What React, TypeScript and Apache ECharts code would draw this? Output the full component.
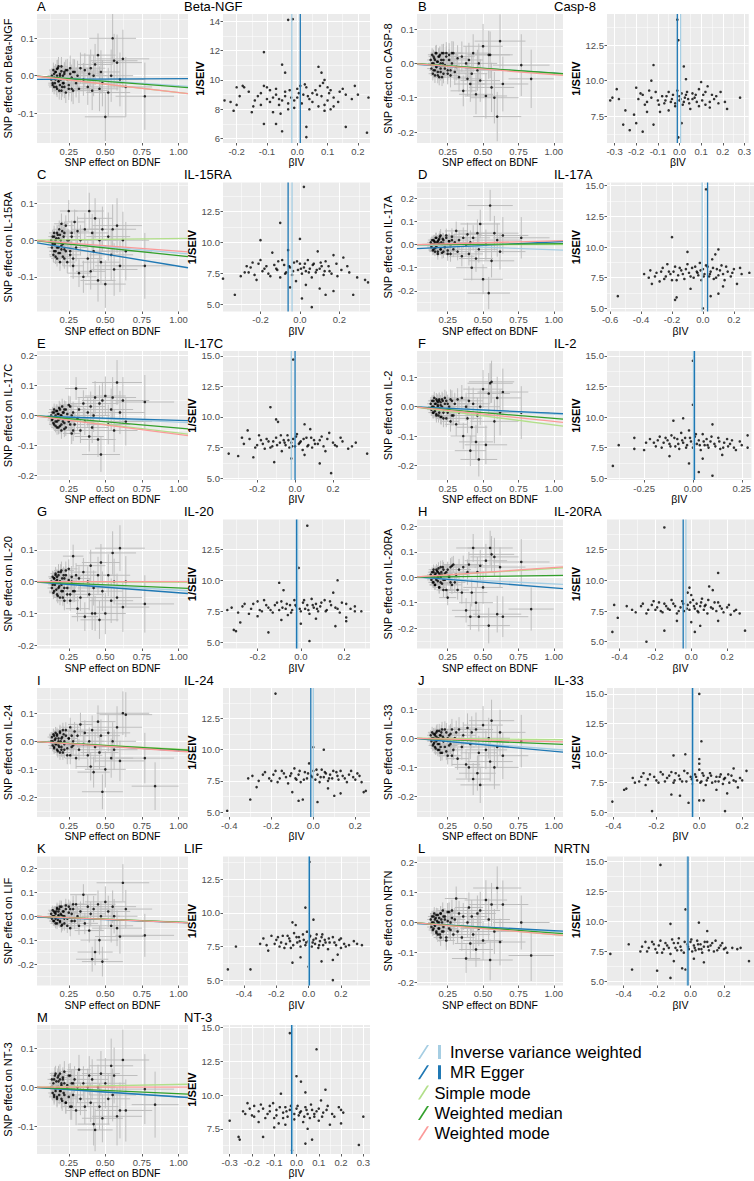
import React, { useEffect, useRef } from 'react';
import * as echarts from 'echarts';

const FONT = "'Liberation Sans', Arial, Helvetica, sans-serif";

// ---------- shared SNP data (exposure BDNF): 50 spread SNPs + 25 clustered SNPs ----------
const bdnfBeta = [0.14,0.15,0.15,0.16,0.16,0.17,0.17,0.18,0.18,0.19,0.19,0.20,0.20,0.21,0.22,0.22,0.23,0.24,0.25,0.26,0.27,0.28,0.29,0.30,0.31,0.32,0.33,0.35,0.36,0.38,0.39,0.40,0.41,0.42,0.43,0.45,0.46,0.47,0.48,0.50,0.52,0.54,0.55,0.56,0.58,0.60,0.62,0.64,0.77,0.84,
  0.13,0.135,0.14,0.145,0.15,0.155,0.16,0.165,0.17,0.175,0.18,0.185,0.19,0.195,0.2,0.205,0.21,0.215,0.22,0.23,0.24,0.25,0.26,0.27,0.28];
const bdnfSe = [0.03,0.03,0.035,0.03,0.04,0.035,0.04,0.04,0.035,0.045,0.04,0.045,0.05,0.05,0.05,0.055,0.05,0.06,0.06,0.065,0.06,0.07,0.07,0.075,0.08,0.08,0.085,0.09,0.09,0.1,0.1,0.1,0.11,0.11,0.12,0.12,0.13,0.13,0.14,0.14,0.15,0.15,0.16,0.16,0.17,0.17,0.18,0.18,0.2,0.16,
  0.025,0.03,0.03,0.03,0.035,0.03,0.035,0.035,0.04,0.035,0.04,0.04,0.045,0.04,0.045,0.045,0.05,0.05,0.05,0.055,0.055,0.06,0.06,0.065,0.065];
const outcomeSe = [0.018,0.02,0.02,0.022,0.02,0.022,0.024,0.022,0.025,0.024,0.026,0.025,0.028,0.026,0.028,0.03,0.028,0.032,0.03,0.034,0.035,0.036,0.034,0.038,0.04,0.038,0.042,0.044,0.045,0.048,0.05,0.05,0.052,0.055,0.055,0.058,0.06,0.058,0.062,0.065,0.066,0.07,0.068,0.072,0.075,0.072,0.078,0.08,0.09,0.085,
  0.017,0.018,0.019,0.02,0.02,0.021,0.021,0.022,0.022,0.023,0.023,0.024,0.024,0.025,0.025,0.026,0.026,0.027,0.027,0.028,0.03,0.031,0.032,0.034,0.035];

// ---------- SNP effect on each outcome ----------
const yBetaNGF = [-0.02,0.005,-0.03,-0.01,0.01,-0.035,0.018,-0.015,0.025,-0.025, 0.0,-0.04,0.012,-0.02,0.005,-0.03,0.015,-0.01,-0.035,0.02, -0.005,-0.04,0.01,-0.02,0.0,-0.035,0.02,-0.01,0.015,-0.03, 0.005,0.02,-0.04,0.0,0.03,0.055,-0.035,0.01,-0.02,-0.11, -0.045,0.0,0.1,0.04,0.035,-0.01,0.045,-0.03,-0.055,null,
  -0.01,0.0,-0.025,0.015,-0.005,-0.02,0.01,-0.03,0.0,0.02,-0.015,-0.04,0.005,-0.01,0.025,-0.03,0.0,-0.02,0.01,-0.045,0.015,-0.025,0.005,-0.035,0.01];
const yCasp8 = [0.0,-0.02,0.02,-0.035,0.01,-0.01,0.03,-0.025,0.005,-0.04, 0.02,-0.015,0.0,0.03,-0.03,0.01,-0.005,0.03,-0.02,0.025, -0.035,0.0,0.03,-0.025,-0.01,0.015,-0.04,0.02,-0.08,0.0, -0.045,0.01,-0.06,-0.03,0.03,-0.09,-0.02,0.0,-0.05,0.05, -0.095,0.025,0.025,-0.07,-0.1,-0.155,0.065,-0.06,-0.005,-0.045,
  0.01,-0.015,0.025,-0.03,0.0,0.015,-0.02,0.03,-0.01,0.005,-0.035,0.02,-0.005,0.025,-0.025,0.01,-0.04,0.0,0.03,-0.015,0.02,-0.03,0.01,-0.02,0.03];
const yIL15RA = [-0.01,0.01,-0.03,0.0,-0.045,0.02,-0.02,-0.035,0.005,-0.06, 0.015,-0.025,0.045,-0.01,-0.05,0.02,-0.03,0.0,0.08,-0.04, 0.01,-0.07,0.05,-0.02,0.025,-0.09,0.0,-0.1,0.03,-0.05, 0.08,-0.085,0.02,-0.03,0.06,-0.11,0.0,-0.06,0.03,-0.12, 0.01,-0.04,0.03,-0.08,0.04,-0.07,0.0,-0.03,-0.07,null,
  0.0,-0.02,0.01,-0.04,0.02,-0.01,-0.03,0.005,-0.05,0.015,-0.02,0.03,-0.035,0.0,-0.015,0.025,-0.045,0.01,-0.025,0.04,-0.06,0.0,-0.03,0.02,-0.05];
const yIL17A = [0.0,0.02,-0.02,0.01,-0.03,0.03,-0.01,0.015,-0.04,0.005, 0.025,-0.02,0.04,0.0,-0.03,0.02,-0.01,0.03,-0.04,0.015, -0.005,0.035,-0.02,0.01,0.06,-0.03,0.02,-0.05,0.03,0.0, 0.045,-0.04,0.01,-0.1,0.03,-0.06,0.05,-0.02,0.09,-0.15, 0.0,-0.21,0.17,-0.07,0.05,0.02,-0.03,0.04,0.03,null,
  0.01,-0.01,0.02,-0.025,0.0,0.015,-0.015,0.03,-0.005,0.01,-0.03,0.02,0.0,0.035,-0.02,0.01,-0.035,0.025,0.005,-0.01,0.04,-0.025,0.015,-0.04,0.02];
const yIL17C = [-0.01,0.01,-0.03,0.0,-0.02,0.015,-0.04,0.005,-0.015,0.02, -0.035,0.0,-0.05,0.01,-0.025,0.02,-0.04,0.005,-0.02,0.03, -0.06,0.01,-0.03,0.09,-0.01,0.02,-0.05,0.04,-0.02,0.01, -0.07,0.03,-0.04,0.0,0.06,-0.08,0.04,-0.13,0.05,0.065, -0.03,0.02,0.06,-0.05,0.11,0.01,0.05,-0.02,0.045,null,
  0.0,-0.015,0.01,-0.025,0.02,-0.005,-0.035,0.015,-0.02,0.005,-0.04,0.025,-0.01,0.0,-0.03,0.03,-0.02,0.01,-0.045,0.02,-0.01,0.035,-0.03,0.0,-0.05];
const yIL2 = [0.0,0.02,-0.02,0.01,-0.01,0.025,-0.03,0.0,0.015,-0.02, 0.02,-0.035,0.005,0.025,-0.01,-0.04,0.01,0.02,-0.02,0.0, -0.05,0.02,-0.03,0.01,-0.06,0.025,-0.02,0.03,-0.1,0.0, -0.04,0.02,-0.15,-0.07,0.01,-0.12,-0.03,-0.18,0.0,0.06, -0.13,0.045,0.08,0.085,-0.05,0.03,-0.02,0.05,-0.02,null,
  0.01,-0.01,0.02,-0.02,0.0,0.03,-0.015,0.01,-0.025,0.02,0.005,-0.03,0.025,-0.005,0.015,-0.035,0.0,0.02,-0.02,0.03,-0.04,0.01,-0.01,0.025,-0.03];
const yIL20 = [-0.01,0.01,-0.03,0.02,0.0,-0.04,0.015,-0.02,0.03,-0.05, 0.0,-0.01,0.035,-0.03,0.01,-0.06,0.02,-0.02,0.04,-0.04, 0.0,0.08,-0.03,0.02,-0.085,0.01,-0.05,0.03,-0.11,0.0, -0.04,0.05,-0.1,-0.02,-0.1,0.02,-0.12,0.06,-0.03,-0.1, 0.02,-0.06,0.09,0.0,-0.05,0.105,-0.08,0.0,-0.07,null,
  0.0,-0.02,0.015,-0.035,0.01,-0.01,0.025,-0.025,0.005,-0.045,0.02,-0.015,0.0,0.03,-0.03,0.01,-0.05,0.02,-0.02,0.035,-0.04,0.005,-0.06,0.015,-0.03];
const yIL20RA = [0.0,0.02,-0.02,0.01,-0.03,0.03,-0.01,0.02,0.0,-0.04, 0.015,0.04,-0.02,0.01,-0.05,0.03,-0.01,0.02,-0.08,0.0, 0.04,-0.03,0.05,-0.02,0.01,-0.05,0.03,-0.06,0.04,-0.13, 0.02,0.05,-0.155,-0.06,0.115,-0.1,0.02,-0.155,0.045,-0.04, 0.065,-0.19,0.115,0.09,0.08,-0.145,0.04,-0.155,0.06,-0.125,
  0.01,-0.01,0.02,-0.02,0.03,0.0,-0.03,0.015,-0.005,0.025,-0.015,0.035,-0.04,0.01,0.0,0.02,-0.025,0.04,-0.01,0.015,-0.05,0.03,0.005,-0.02,0.045];
const yIL24 = [0.0,-0.02,0.02,-0.01,0.01,-0.03,0.025,0.0,-0.015,0.03, -0.04,0.01,-0.02,0.04,0.0,-0.03,0.02,-0.05,0.01,0.05, -0.02,0.0,0.035,-0.06,0.02,-0.03,0.06,-0.01,0.03,-0.05, 0.0,-0.09,0.04,-0.11,-0.02,0.07,-0.04,0.02,-0.18,-0.1, 0.03,-0.06,0.0,-0.03,0.05,-0.07,0.1,0.095,-0.06,-0.16,
  0.0,0.015,-0.015,0.025,-0.025,0.005,0.03,-0.01,0.02,-0.035,0.01,-0.02,0.035,0.0,-0.03,0.015,-0.04,0.025,-0.01,0.04,-0.025,0.01,-0.05,0.02,-0.015];
const yIL33 = [0.0,-0.02,0.015,-0.03,0.01,-0.01,0.02,-0.04,0.0,0.025, -0.02,0.01,-0.05,0.03,-0.01,0.0,-0.03,0.02,-0.06,0.01, -0.02,0.03,-0.04,0.0,0.02,-0.07,0.03,-0.03,0.01,-0.09, 0.035,-0.1,-0.02,0.02,-0.14,0.03,-0.12,-0.05,-0.16,0.045, -0.04,0.0,-0.08,0.06,-0.1,-0.03,0.02,-0.06,-0.01,null,
  0.01,-0.01,0.02,-0.025,0.0,-0.015,0.015,-0.035,0.005,0.025,-0.02,0.0,-0.04,0.01,-0.03,0.02,-0.05,0.005,-0.01,0.03,-0.045,0.0,-0.025,0.015,-0.06];
const yLIF = [0.0,-0.02,0.02,-0.01,0.01,0.03,-0.03,0.0,0.02,-0.02, 0.04,0.005,-0.04,0.02,0.0,-0.03,0.03,-0.01,0.04,-0.05, 0.01,0.03,-0.02,0.05,0.0,-0.04,0.02,0.09,-0.03,0.04, -0.06,0.01,-0.18,0.03,-0.15,0.05,-0.1,0.0,-0.19,0.06, 0.02,-0.04,0.04,0.0,-0.05,-0.085,0.14,0.03,-0.08,null,
  0.01,-0.01,0.025,-0.02,0.0,0.015,-0.03,0.02,0.035,-0.015,0.005,0.03,-0.025,0.01,0.04,-0.035,0.0,0.02,-0.01,0.045,-0.04,0.015,0.03,-0.02,0.05];
const yNRTN = [0.0,-0.02,0.02,-0.01,0.01,-0.03,0.025,0.0,-0.04,0.015, -0.02,0.03,-0.05,0.0,0.02,-0.03,0.01,-0.06,0.035,-0.02, 0.0,0.04,-0.04,0.01,0.08,-0.03,0.03,-0.05,0.02,-0.12, 0.0,0.05,-0.07,0.02,-0.04,-0.09,0.03,-0.02,0.04,-0.06, 0.075,0.01,-0.125,0.06,-0.03,0.115,-0.065,0.06,0.0,-0.11,
  0.01,-0.015,0.02,-0.025,0.0,0.03,-0.01,0.015,-0.035,0.005,0.025,-0.02,0.0,-0.04,0.03,0.01,-0.03,0.04,-0.015,0.02,-0.05,0.005,0.035,-0.025,0.015];
const yNT3 = [0.0,-0.02,0.02,-0.01,0.035,0.0,-0.025,0.015,0.03,-0.01, 0.02,-0.03,0.005,0.025,-0.02,0.01,-0.04,0.0,0.03,-0.05, 0.01,-0.02,0.02,-0.06,0.0,0.045,-0.03,0.01,-0.05,0.0, 0.03,-0.04,0.02,-0.095,-0.11,0.0,-0.05,0.035,-0.08,0.01, -0.03,0.055,-0.02,0.03,-0.075,-0.06,0.07,-0.06,-0.005,-0.045,
  0.0,0.02,-0.015,0.01,-0.025,0.03,-0.005,0.015,-0.03,0.025,0.0,-0.02,0.035,-0.01,0.01,-0.035,0.02,-0.015,0.04,-0.04,0.005,-0.025,0.03,-0.05,0.01];

// ---------- funnel plots: [betaIV, 1/SEIV] ----------
const fBetaNGF = [[-0.03,14.1],[-0.015,14.15],[-0.11,11.9],[-0.05,11.05],[-0.04,10.5],[0.07,10.9],[0.08,10.5],[0.09,10.0],[0.085,9.8],[0.1,9.5],[0.11,9.3],[-0.24,8.6],[-0.22,8.5],[-0.2,9.5],[-0.21,7.9],[-0.18,9.6],[-0.175,9.5],[-0.19,8.9],[-0.15,7.8],[-0.14,8.6],[-0.12,9.1],[-0.12,8.3],[-0.1,8.7],[-0.1,9.5],[-0.09,9.3],[-0.08,8.8],[-0.07,9.0],[-0.06,8.3],[-0.05,8.6],[-0.04,9.2],[-0.03,8.4],[-0.02,8.8],[-0.01,8.1],[0.0,8.8],[0.0,9.4],[0.01,9.6],[0.02,9.0],[0.03,9.5],[0.04,8.7],[0.05,9.1],[0.06,9.3],[0.07,8.2],[0.08,8.9],[0.1,8.6],[0.11,8.0],[0.12,8.2],[0.14,9.2],[0.16,9.0],[0.19,9.6],[0.2,9.0],[0.235,8.8],[-0.11,7.0],[-0.07,7.0],[-0.05,6.5],[0.03,6.1],[0.03,6.8],[0.16,6.8],[0.23,6.4],[-0.08,7.8],[-0.03,8.0],[0.04,8.0],[0.09,7.9],
  [-0.16,9.2],[-0.13,8.9],[-0.11,9.6],[-0.09,8.5],[-0.07,9.4],[-0.06,8.7],[-0.04,8.9],[-0.025,9.3],[-0.01,8.6],[0.005,9.1],[0.015,8.4],[0.025,9.7],[0.035,8.9],[0.05,8.5],[0.065,9.0],[0.075,9.6],[0.09,8.3],[0.105,9.1],[0.12,8.8],[0.135,8.5],[0.15,9.4],[0.18,8.7],[-0.2,8.3],[-0.145,8.2],[-0.055,7.7]];
const fCasp8 = [[-0.01,14.3],[-0.005,12.85],[0.02,11.0],[-0.12,11.1],[0.03,10.1],[-0.13,10.0],[-0.29,9.4],[-0.2,9.5],[-0.31,8.8],[-0.32,8.6],[-0.28,8.7],[-0.25,7.9],[-0.23,6.5],[-0.26,6.9],[-0.2,7.0],[-0.17,6.4],[-0.12,6.9],[0.01,7.0],[-0.005,6.0],[0.1,9.9],[0.13,9.6],[0.15,9.0],[0.22,8.0],[0.28,8.8],[0.18,8.4],[0.12,8.3],[0.07,8.8],[-0.18,9.1],[-0.16,8.3],[-0.14,9.3],[-0.1,8.6],[-0.09,7.8],[-0.07,8.4],[-0.06,8.9],[-0.05,7.9],[-0.04,8.5],[-0.03,9.0],[-0.02,8.2],[0.0,8.9],[0.0,8.6],[0.01,9.1],[0.02,8.5],[0.03,9.0],[0.04,8.7],[0.05,8.0],[0.06,9.1],[0.08,8.5],[0.09,9.4],[0.11,9.0],[0.14,8.1],[0.16,8.7],[0.19,9.2],[-0.21,7.6],[-0.15,7.8],
  [-0.19,8.7],[-0.17,9.0],[-0.15,8.5],[-0.13,8.8],[-0.11,9.2],[-0.095,8.3],[-0.08,8.9],[-0.065,8.6],[-0.05,9.2],[-0.035,8.7],[-0.02,8.4],[-0.01,9.3],[0.005,8.7],[0.015,8.3],[0.025,8.8],[0.035,9.2],[0.045,8.4],[0.06,8.7],[0.075,9.0],[0.09,8.2],[0.105,8.6],[0.12,9.2],[0.14,8.5],[0.17,8.9],[0.21,8.5]];
const fIL15RA = [[0.02,14.5],[-0.1,11.6],[0.0,10.3],[-0.2,10.2],[0.01,5.5],[0.06,4.8],[0.27,5.8],[0.17,6.1],[-0.39,7.1],[-0.33,5.8],[-0.3,7.3],[-0.27,8.1],[-0.26,7.6],[-0.24,8.4],[-0.22,7.0],[-0.2,8.6],[-0.19,7.7],[-0.17,8.1],[-0.15,7.3],[-0.14,9.2],[-0.12,7.9],[-0.11,8.5],[-0.1,7.2],[-0.08,8.2],[-0.07,7.6],[-0.06,9.4],[-0.05,8.0],[-0.04,7.4],[-0.03,8.4],[-0.02,6.9],[-0.01,7.8],[0.0,8.3],[0.01,7.5],[0.02,8.0],[0.03,7.7],[0.04,8.6],[0.05,7.9],[0.06,7.2],[0.07,8.3],[0.08,7.6],[0.09,9.3],[0.1,7.9],[0.11,8.1],[0.12,7.4],[0.13,8.5],[0.15,7.7],[0.17,9.0],[0.19,7.3],[0.22,8.8],[0.25,7.6],[0.29,7.2],[0.33,7.0],[0.345,6.8],[0.1,6.3],[0.13,5.8],[-0.05,6.4],[0.03,6.6],
  [-0.28,7.6],[-0.25,8.0],[-0.23,7.4],[-0.21,8.3],[-0.18,7.9],[-0.16,7.5],[-0.13,8.2],[-0.115,7.8],[-0.09,8.6],[-0.075,7.5],[-0.055,8.1],[-0.035,7.7],[-0.015,8.5],[0.005,7.9],[0.025,8.3],[0.045,7.6],[0.065,8.2],[0.085,7.8],[0.105,8.4],[0.125,7.7],[0.145,8.1],[0.16,7.5],[0.185,8.3],[0.21,7.8],[0.24,8.1]];
const fIL17A = [[0.02,14.7],[-0.2,10.8],[-0.1,9.6],[0.1,9.8],[0.08,9.4],[-0.55,6.0],[-0.18,5.7],[-0.17,5.9],[0.0,5.0],[0.05,6.0],[0.1,6.2],[-0.38,7.8],[-0.35,7.5],[-0.33,7.0],[-0.3,7.9],[-0.28,7.2],[-0.26,8.3],[-0.24,7.6],[-0.22,8.0],[-0.2,7.3],[-0.18,8.4],[-0.16,7.7],[-0.14,8.1],[-0.12,7.4],[-0.1,8.6],[-0.09,7.9],[-0.07,8.3],[-0.06,7.5],[-0.04,8.0],[-0.03,7.7],[-0.02,8.7],[-0.01,7.3],[0.0,8.2],[0.01,7.8],[0.03,8.4],[0.04,7.6],[0.05,8.0],[0.06,9.0],[0.07,7.4],[0.09,8.2],[0.1,7.7],[0.12,8.5],[0.14,7.3],[0.16,8.0],[0.18,7.6],[0.2,8.2],[0.22,7.0],[0.25,7.8],[0.3,7.9],[0.13,6.8],[-0.08,6.6],
  [-0.34,8.1],[-0.31,7.6],[-0.27,8.0],[-0.25,7.4],[-0.23,8.6],[-0.21,7.8],[-0.19,8.0],[-0.17,7.3],[-0.15,8.3],[-0.13,7.8],[-0.11,8.2],[-0.08,7.6],[-0.05,8.4],[-0.035,7.9],[-0.015,8.1],[0.005,7.6],[0.02,8.5],[0.045,7.8],[0.065,8.3],[0.085,7.5],[0.11,8.1],[0.13,7.8],[0.15,8.4],[0.19,7.9],[0.24,8.3]];
const fIL17C = [[-0.01,14.7],[-0.13,10.8],[-0.1,9.8],[-0.09,9.6],[0.05,9.4],[0.38,7.0],[-0.35,7.0],[0.19,5.4],[-0.22,6.7],[-0.3,6.8],[0.13,6.2],[-0.25,8.9],[-0.28,8.3],[-0.2,7.7],[-0.18,8.1],[-0.16,7.4],[-0.14,8.0],[-0.12,7.6],[-0.1,8.3],[-0.08,7.9],[-0.07,7.2],[-0.06,8.1],[-0.05,7.7],[-0.04,8.5],[-0.03,7.5],[-0.02,7.9],[-0.01,8.2],[0.0,7.6],[0.01,8.6],[0.02,7.8],[0.03,8.0],[0.04,7.3],[0.06,8.3],[0.07,7.7],[0.08,9.0],[0.09,7.5],[0.1,8.1],[0.12,7.8],[0.14,8.4],[0.16,7.2],[0.18,8.7],[0.2,7.9],[0.22,7.6],[0.25,8.0],[0.28,7.4],[0.32,7.9],[-0.02,6.6],[0.05,6.9],[-0.11,6.3],
  [-0.27,7.8],[-0.24,8.2],[-0.21,7.5],[-0.19,8.5],[-0.17,7.8],[-0.15,8.2],[-0.13,7.5],[-0.115,8.0],[-0.095,7.7],[-0.075,8.5],[-0.055,7.9],[-0.035,8.1],[-0.015,7.6],[0.005,8.4],[0.025,7.9],[0.045,8.2],[0.065,7.6],[0.085,8.3],[0.105,7.8],[0.13,8.1],[0.15,7.6],[0.17,8.2],[0.21,7.7],[0.24,8.3],[0.3,7.6]];
const fIL2 = [[0.0,14.6],[0.0,11.0],[-0.05,9.9],[-0.1,9.7],[0.1,9.4],[-0.38,7.7],[-0.25,7.3],[-0.3,8.3],[-0.41,6.0],[0.03,5.5],[0.1,5.2],[0.28,7.5],[0.28,8.5],[-0.2,7.9],[-0.18,8.1],[-0.16,7.5],[-0.14,8.3],[-0.12,7.8],[-0.11,8.5],[-0.09,7.6],[-0.08,8.2],[-0.07,7.4],[-0.06,8.7],[-0.05,7.9],[-0.04,8.3],[-0.03,7.7],[-0.02,8.9],[-0.01,8.0],[0.0,7.5],[0.01,8.4],[0.02,7.8],[0.03,8.1],[0.04,7.3],[0.05,8.6],[0.06,7.7],[0.07,8.2],[0.08,7.5],[0.09,8.0],[0.11,7.8],[0.13,8.3],[0.14,7.4],[0.16,7.9],[0.18,7.6],[0.2,8.1],[0.22,7.3],[0.25,7.7],[-0.12,6.8],[0.05,6.6],[0.15,6.9],[-0.02,6.2],[-0.3,7.4],
  [-0.24,7.9],[-0.22,8.2],[-0.19,7.6],[-0.17,8.4],[-0.15,7.9],[-0.13,8.1],[-0.115,7.6],[-0.095,8.3],[-0.075,7.8],[-0.055,8.1],[-0.035,7.5],[-0.015,8.3],[0.005,7.8],[0.015,8.6],[0.035,7.7],[0.055,8.0],[0.075,7.7],[0.095,8.4],[0.115,7.6],[0.135,8.0],[0.155,7.5],[0.175,8.2],[0.19,7.8],[0.21,7.5],[0.24,8.0]];
const fIL20 = [[0.03,14.4],[-0.01,11.0],[-0.1,9.8],[-0.08,9.2],[0.17,10.0],[-0.3,5.9],[-0.31,6.0],[-0.28,6.6],[-0.15,5.8],[0.04,5.1],[0.16,6.3],[0.21,6.7],[0.21,7.0],[-0.2,7.1],[0.25,7.5],[-0.34,7.6],[-0.27,7.9],[-0.24,7.3],[-0.22,8.1],[-0.19,7.6],[-0.17,8.4],[-0.15,7.8],[-0.13,7.4],[-0.12,8.0],[-0.1,7.6],[-0.09,8.3],[-0.07,7.7],[-0.06,7.2],[-0.05,8.0],[-0.04,7.6],[-0.03,8.4],[-0.02,7.9],[0.0,7.5],[0.01,8.2],[0.02,7.7],[0.03,8.0],[0.04,7.3],[0.05,8.5],[0.06,7.8],[0.07,8.1],[0.08,7.5],[0.09,7.9],[0.11,8.4],[0.12,7.6],[0.14,8.0],[0.15,9.0],[0.17,7.7],[0.19,8.2],[0.23,7.7],[0.28,7.5],[0.0,6.5],[0.07,6.9],[-0.09,6.8],
  [-0.32,7.8],[-0.29,7.4],[-0.26,8.1],[-0.23,7.7],[-0.2,8.3],[-0.18,7.5],[-0.16,8.0],[-0.14,7.6],[-0.11,8.2],[-0.085,7.8],[-0.065,8.1],[-0.045,7.4],[-0.025,8.0],[-0.005,7.7],[0.015,8.4],[0.035,7.6],[0.055,8.0],[0.075,7.7],[0.095,8.2],[0.115,7.5],[0.135,8.3],[0.16,7.8],[0.18,7.4],[0.21,8.1],[0.25,7.9]];
const fIL20RA = [[-0.15,14.3],[0.0,8.8],[-0.02,9.0],[-0.01,9.4],[0.15,10.6],[0.1,9.5],[0.12,9.2],[-0.43,8.0],[-0.41,6.95],[-0.44,5.8],[-0.25,5.0],[-0.15,5.9],[0.3,5.9],[0.15,6.7],[0.0,6.6],[0.02,5.8],[-0.33,7.6],[-0.28,7.9],[-0.25,7.3],[-0.22,8.0],[-0.2,7.6],[-0.18,8.2],[-0.16,7.4],[-0.14,7.9],[-0.12,7.6],[-0.1,8.1],[-0.08,7.3],[-0.06,7.8],[-0.05,8.3],[-0.04,7.5],[-0.02,8.0],[-0.01,7.6],[0.01,8.4],[0.02,7.7],[0.03,8.1],[0.04,7.4],[0.05,7.9],[0.06,8.5],[0.07,7.6],[0.08,8.0],[0.09,7.3],[0.11,7.8],[0.13,8.2],[0.14,7.5],[0.16,7.9],[0.18,7.4],[0.2,7.8],[0.22,7.2],[0.25,7.6],[0.27,7.3],[0.05,6.3],[-0.08,6.7],
  [-0.36,7.9],[-0.31,7.4],[-0.27,8.1],[-0.24,7.6],[-0.21,8.3],[-0.19,7.8],[-0.17,7.5],[-0.15,8.1],[-0.13,7.7],[-0.11,8.4],[-0.09,7.9],[-0.07,7.5],[-0.045,8.1],[-0.025,7.7],[-0.005,8.2],[0.015,7.9],[0.035,7.5],[0.055,8.2],[0.075,7.9],[0.095,8.4],[0.12,7.7],[0.15,8.2],[0.17,7.7],[0.21,8.0],[0.24,7.5]];
const fIL24 = [[-0.18,14.5],[0.0,10.2],[0.05,10.0],[-0.3,6.0],[-0.41,5.1],[-0.05,6.0],[-0.07,5.9],[0.02,5.8],[0.1,6.3],[0.13,6.5],[0.24,6.6],[0.25,6.7],[0.18,8.3],[-0.27,7.0],[-0.31,7.7],[-0.24,8.0],[-0.2,7.5],[-0.18,8.3],[-0.16,7.7],[-0.14,8.1],[-0.12,7.3],[-0.11,7.9],[-0.09,8.5],[-0.08,7.6],[-0.07,8.0],[-0.06,7.4],[-0.04,8.2],[-0.03,7.7],[-0.02,8.9],[-0.01,7.9],[0.0,8.3],[0.01,7.6],[0.02,8.0],[0.03,7.4],[0.04,8.4],[0.05,7.8],[0.06,8.1],[0.07,7.5],[0.08,8.0],[0.09,7.7],[0.11,8.2],[0.12,7.6],[0.14,7.9],[0.16,7.4],[0.19,7.8],[0.21,8.1],[0.23,7.4],[-0.1,6.6],[0.07,6.9],
  [-0.29,7.9],[-0.26,7.5],[-0.23,8.2],[-0.21,7.7],[-0.19,8.0],[-0.17,7.4],[-0.15,8.3],[-0.13,7.8],[-0.105,8.1],[-0.085,7.7],[-0.065,8.3],[-0.045,7.6],[-0.025,8.1],[-0.005,7.8],[0.015,8.4],[0.035,7.8],[0.055,8.2],[0.075,7.7],[0.095,8.3],[0.115,7.9],[0.13,8.3],[0.15,7.7],[0.17,8.0],[0.2,7.6],[0.22,7.9]];
const fIL33 = [[0.0,15.0],[0.01,11.0],[-0.065,9.9],[-0.12,9.8],[0.0,9.5],[0.0,9.1],[-0.405,5.9],[-0.35,6.9],[-0.34,7.0],[-0.22,5.1],[0.12,5.1],[-0.05,5.8],[0.0,6.0],[0.02,6.0],[0.13,6.6],[0.22,8.5],[0.16,8.7],[-0.3,7.5],[-0.27,8.0],[-0.25,7.3],[-0.23,8.2],[-0.2,7.7],[-0.18,8.4],[-0.16,7.6],[-0.14,8.1],[-0.12,7.5],[-0.11,8.3],[-0.09,7.8],[-0.07,8.5],[-0.06,7.6],[-0.04,8.0],[-0.03,7.4],[-0.02,8.2],[-0.01,7.7],[0.0,8.6],[0.01,7.6],[0.02,8.1],[0.03,7.3],[0.04,7.9],[0.05,8.3],[0.06,7.5],[0.08,8.0],[0.09,7.6],[0.1,8.2],[0.11,7.4],[0.12,7.9],[0.14,7.5],[0.15,8.1],[0.17,7.6],[0.18,7.1],[0.2,7.7],[-0.13,6.5],[0.08,6.9],[-0.09,6.4],
  [-0.31,7.9],[-0.28,7.6],[-0.26,8.3],[-0.24,7.8],[-0.21,8.0],[-0.19,7.5],[-0.17,8.2],[-0.15,7.9],[-0.13,8.4],[-0.115,7.7],[-0.095,8.1],[-0.08,7.6],[-0.055,8.3],[-0.035,7.8],[-0.015,8.0],[0.005,7.5],[0.015,8.3],[0.035,7.7],[0.055,8.1],[0.075,7.6],[0.095,8.0],[0.115,7.8],[0.135,8.2],[0.16,7.7],[0.19,7.9]];
const fLIF = [[0.005,13.8],[-0.02,10.4],[-0.1,9.3],[-0.08,9.1],[0.03,9.5],[-0.5,5.8],[-0.36,5.8],[-0.45,7.5],[0.15,5.0],[0.15,6.5],[0.18,6.9],[0.3,7.7],[0.33,7.6],[-0.3,7.7],[-0.25,7.2],[-0.2,8.0],[-0.18,7.5],[-0.16,8.3],[-0.14,7.7],[-0.12,8.1],[-0.11,7.4],[-0.09,8.5],[-0.07,7.8],[-0.06,8.2],[-0.05,7.5],[-0.03,8.0],[-0.02,7.6],[-0.01,8.6],[0.0,7.9],[0.01,8.3],[0.02,7.5],[0.03,8.0],[0.04,7.7],[0.05,8.4],[0.06,7.4],[0.07,7.9],[0.08,8.2],[0.09,7.6],[0.1,8.0],[0.12,7.3],[0.13,7.8],[0.15,8.2],[0.17,7.6],[0.19,8.0],[0.2,7.4],[0.22,7.7],[0.25,7.6],[-0.1,6.3],[0.0,6.0],[-0.05,6.7],[0.08,6.4],
  [-0.28,8.1],[-0.26,7.6],[-0.23,8.3],[-0.21,7.7],[-0.19,8.2],[-0.17,7.8],[-0.15,7.4],[-0.13,8.3],[-0.115,7.9],[-0.095,7.6],[-0.075,8.2],[-0.055,7.9],[-0.035,8.4],[-0.015,7.8],[0.005,8.2],[0.025,7.8],[0.045,8.1],[0.065,7.6],[0.085,8.4],[0.105,7.8],[0.125,8.1],[0.16,7.8],[0.2,8.1],[0.23,7.5],[0.28,7.9]];
const fNRTN = [[-0.18,14.7],[-0.03,11.0],[-0.12,9.8],[0.05,9.9],[0.1,9.2],[-0.48,7.3],[-0.37,8.1],[-0.35,6.0],[-0.2,5.9],[-0.12,5.3],[-0.05,6.1],[-0.03,6.0],[0.35,6.7],[0.3,7.8],[0.2,7.7],[-0.3,7.5],[-0.27,8.3],[-0.25,7.8],[-0.22,8.1],[-0.2,7.4],[-0.18,8.4],[-0.16,7.7],[-0.14,8.0],[-0.12,7.3],[-0.1,8.2],[-0.08,7.6],[-0.07,8.6],[-0.06,7.9],[-0.04,7.4],[-0.02,8.1],[-0.01,7.7],[0.0,8.3],[0.01,7.5],[0.02,8.0],[0.03,7.6],[0.04,8.4],[0.05,7.7],[0.06,8.1],[0.07,7.4],[0.08,7.9],[0.1,8.3],[0.11,7.6],[0.12,8.0],[0.14,7.5],[0.15,8.4],[0.17,7.8],[0.19,8.2],[0.22,7.4],[0.25,7.8],[-0.1,6.7],[0.08,6.6],[0.02,6.9],
  [-0.29,7.9],[-0.26,7.5],[-0.23,8.3],[-0.21,7.7],[-0.19,8.0],[-0.17,7.4],[-0.15,8.2],[-0.13,7.8],[-0.11,8.5],[-0.09,7.8],[-0.075,8.2],[-0.055,7.6],[-0.035,8.3],[-0.015,7.9],[0.005,8.5],[0.025,7.8],[0.045,8.1],[0.065,7.7],[0.085,8.3],[0.105,7.9],[0.13,8.2],[0.16,7.6],[0.18,8.0],[0.21,7.8],[0.28,7.7]];
const fNT3 = [[-0.03,14.6],[0.09,13.4],[0.0,11.4],[0.02,11.0],[-0.07,10.1],[0.04,10.2],[0.13,10.4],[0.11,9.6],[-0.3,8.1],[-0.26,6.9],[-0.255,6.7],[-0.15,6.9],[-0.02,5.9],[0.04,6.4],[0.07,6.7],[0.28,6.3],[0.3,8.4],[0.2,7.9],[0.15,7.8],[0.2,8.9],[-0.24,8.8],[-0.22,9.4],[-0.2,8.5],[-0.19,9.2],[-0.17,8.0],[-0.15,9.0],[-0.13,8.6],[-0.12,9.2],[-0.1,8.3],[-0.09,8.9],[-0.08,7.9],[-0.06,8.7],[-0.05,9.1],[-0.04,8.4],[-0.03,8.9],[-0.01,8.2],[0.0,9.0],[0.01,8.5],[0.02,8.8],[0.03,8.0],[0.04,9.1],[0.05,8.6],[0.06,8.3],[0.07,8.9],[0.08,8.4],[0.09,8.8],[0.1,8.1],[0.12,8.7],[0.14,9.2],[0.17,8.4],[0.21,8.7],[-0.1,7.6],[0.05,7.5],[-0.05,7.8],
  [-0.23,8.6],[-0.21,9.0],[-0.19,8.4],[-0.17,8.8],[-0.16,9.3],[-0.14,8.3],[-0.12,8.8],[-0.105,9.4],[-0.09,8.5],[-0.075,9.1],[-0.06,8.3],[-0.045,8.8],[-0.025,9.2],[-0.01,8.6],[0.005,9.2],[0.015,8.7],[0.035,8.4],[0.045,8.9],[0.065,9.3],[0.08,8.6],[0.1,9.0],[0.115,8.4],[0.135,8.9],[0.16,8.6],[0.19,9.1]];

// ---------- panel descriptors ----------
const panelLetters = ['A','B','C','D','E','F','G','H','I','J','K','L','M'];
const panelTitles = ['Beta-NGF','Casp-8','IL-15RA','IL-17A','IL-17C','IL-2','IL-20','IL-20RA','IL-24','IL-33','LIF','NRTN','NT-3'];
const outcomeNames = ['Beta-NGF','CASP-8','IL-15RA','IL-17A','IL-17C','IL-2','IL-20','IL-20RA','IL-24','IL-33','LIF','NRTN','NT-3'];
const outcomeBetas = [yBetaNGF,yCasp8,yIL15RA,yIL17A,yIL17C,yIL2,yIL20,yIL20RA,yIL24,yIL33,yLIF,yNRTN,yNT3];
const funnelPoints = [fBetaNGF,fCasp8,fIL15RA,fIL17A,fIL17C,fIL2,fIL20,fIL20RA,fIL24,fIL33,fLIF,fNRTN,fNT3];

const methods = ['Inverse variance weighted','MR Egger','Simple mode','Weighted median','Weighted mode'];
const methodColors = ['#A6CEE3','#1F78B4','#B2DF8A','#33A02C','#FB9A99'];
const ivwSlope = [-0.027,-0.028,-0.035,-0.022,-0.022,-0.025,-0.027,-0.026,-0.032,-0.038,-0.027,-0.03,-0.025];
const eggerSlope = [0.002,-0.027,-0.066,0.03,-0.014,-0.022,-0.035,-0.045,-0.034,-0.045,-0.022,-0.024,-0.025];
const eggerIntercept = [-0.01,-0.002,-0.005,-0.018,-0.002,0.0,0.0,0.003,0.0,0.0,-0.003,-0.003,0.0];
const simpleModeSlope = [-0.045,-0.03,0.005,0.0,-0.058,-0.062,-0.002,0.035,-0.028,-0.005,-0.024,-0.04,0.007];
const weightedMedianSlope = [-0.03,-0.028,-0.042,0.004,-0.042,-0.04,-0.02,0.007,-0.03,-0.02,-0.025,-0.035,-0.017];
const weightedModeSlope = [-0.045,-0.033,-0.03,0.017,-0.063,-0.05,0.0,0.038,-0.035,-0.012,-0.026,-0.04,0.0];
const funnelIvw = [-0.018,0.005,-0.04,-0.005,-0.02,0.003,-0.015,-0.03,0.0,-0.028,0.0,-0.02,-0.018];
const funnelEgger = [0.01,-0.01,-0.06,0.03,0.0,0.008,-0.02,-0.045,-0.012,-0.032,0.005,-0.015,-0.022];

const scatterXRange = [0.033, 1.065];
const scatterXTicks = [0.25, 0.5, 0.75, 1.0];
const scatterYRange = [[-0.18,0.165],[-0.232,0.144],[-0.195,0.158],[-0.29,0.27],[-0.215,0.215],[-0.25,0.19],[-0.21,0.195],[-0.28,0.227],[-0.27,0.19],[-0.27,0.172],[-0.29,0.25],[-0.21,0.22],[-0.172,0.16]];
const scatterYTicks = [[-0.1,0,0.1],[-0.2,-0.1,0,0.1],[-0.1,0,0.1],[-0.2,-0.1,0,0.1,0.2],[-0.2,-0.1,0,0.1,0.2],[-0.2,-0.1,0,0.1],[-0.2,-0.1,0,0.1],[-0.2,-0.1,0,0.1,0.2],[-0.2,-0.1,0,0.1],[-0.2,-0.1,0,0.1],[-0.2,-0.1,0,0.1,0.2],[-0.2,-0.1,0,0.1,0.2],[-0.1,0,0.1]];
const funnelXRange = [[-0.245,0.24],[-0.335,0.32],[-0.39,0.355],[-0.62,0.33],[-0.38,0.395],[-0.44,0.3],[-0.36,0.32],[-0.47,0.35],[-0.43,0.27],[-0.43,0.255],[-0.53,0.38],[-0.5,0.38],[-0.33,0.33]];
const funnelXTicks = [[-0.2,-0.1,0,0.1,0.2],[-0.3,-0.2,-0.1,0,0.1,0.2,0.3],[-0.2,0,0.2],[-0.6,-0.4,-0.2,0,0.2],[-0.2,0,0.2],[-0.25,0,0.25],[-0.2,0,0.2],[-0.4,-0.2,0,0.2],[-0.4,-0.2,0,0.2],[-0.4,-0.2,0,0.2],[-0.4,-0.2,0,0.2],[-0.4,-0.2,0,0.2],[-0.3,-0.2,-0.1,0,0.1,0.2,0.3]];
const funnelXDecimals = [1,1,1,1,1,2,1,1,1,1,1,1,1];
const funnelYRange = [[5.7,14.5],[5.6,14.7],[4.45,14.85],[4.75,15.25],[4.84,15.4],[4.85,15.4],[4.5,14.9],[4.45,14.95],[4.6,14.95],[4.6,15.5],[4.6,14.2],[4.67,15.4],[5.63,15.2]];
const funnelYTicks = [[6,8,10,12,14],[7.5,10,12.5],[5,7.5,10,12.5],[5,7.5,10,12.5,15],[5,7.5,10,12.5,15],[5,7.5,10,12.5,15],[5,7.5,10,12.5],[5,7.5,10,12.5],[5,7.5,10,12.5],[5,7.5,10,12.5,15],[5,7.5,10,12.5],[5,7.5,10,12.5,15],[7.5,10,12.5,15]];
const funnelYDecimals = [0,1,1,1,1,1,1,1,1,1,1,1,1];

// ---------- layout ----------
const ROW_H = 168.5;
const COL_X = [0, 381];
const SC_LEFT = [37, 36], SC_W = [151, 146];
const FN_LEFT = [223, 226], FN_W = [147, 147];
const PANEL_TOP = 14, PANEL_H = 129;
const TITLE_LEFT = [184, 554];

function fmt(v: number, d: number) {
  const r = Math.abs(v) < 1e-9 ? 0 : v;
  const s = Math.abs(r).toFixed(d);
  return (r < 0 ? '-' : '') + s;
}
function minorsOf(majors: number[], min: number, max: number) {
  const step = majors[1] - majors[0];
  const out: number[] = [];
  for (let k = -1; k < majors.length; k++) {
    const v = +(majors[0] + (k + 0.5) * step).toFixed(6);
    if (v > min && v < max) out.push(v);
  }
  return out;
}

function makeAxes(gi: number, min: number, max: number, majors: number[], dec: number, name: string, nameGap: number, nameStyle: any) {
  const major = {
    type: 'value', gridIndex: gi, min, max,
    axisLine: { show: false, onZero: false },
    axisTick: { show: true, length: 2.5, lineStyle: { color: '#333333', width: 0.8 }, customValues: majors },
    axisLabel: { show: true, customValues: majors, formatter: (v: number) => fmt(v, dec), fontSize: 9.5, lineHeight: 10, color: '#4D4D4D', margin: 3, fontFamily: FONT },
    splitLine: { show: true, lineStyle: { color: '#FFFFFF', width: 1.1 } },
    name, nameLocation: 'middle', nameGap, nameTextStyle: nameStyle,
  };
  const minor = {
    type: 'value', gridIndex: gi, min, max,
    axisLine: { show: false, onZero: false },
    axisTick: { show: false, customValues: minorsOf(majors, min, max) },
    axisLabel: { show: false },
    splitLine: { show: true, lineStyle: { color: '#FFFFFF', width: 0.5 } },
  };
  return [major, minor];
}

const ivwIcon = 'path://M0,14L2,14L11,0L9,0Z M20,0L23,0L23,14L20,14Z';
const modeIcon = 'path://M0,14L2,14L11,0L9,0Z';

function buildOption() {
  const grids: any[] = [];
  const xAxes: any[] = [];
  const yAxes: any[] = [];
  const series: any[] = [];
  const texts: any[] = [];
  const xNameStyle = { fontSize: 10.5, color: '#000', fontFamily: FONT };
  const yNameStyle = { fontSize: 11, color: '#000', fontFamily: FONT };
  const fyNameStyle = { fontSize: 11, color: '#000', fontWeight: 'bold', fontFamily: FONT };

  panelLetters.forEach((letter, p) => {
    const col = p % 2;
    const row = Math.floor(p / 2);
    const T = row * ROW_H;
    const cx = COL_X[col];
    const gS = 2 * p, gF = 2 * p + 1;

    grids.push({ left: cx + SC_LEFT[col], top: T + PANEL_TOP, width: SC_W[col], height: PANEL_H, show: true, backgroundColor: '#EBEBEB', borderWidth: 0 });
    grids.push({ left: cx + FN_LEFT[col], top: T + PANEL_TOP, width: FN_W[col], height: PANEL_H, show: true, backgroundColor: '#EBEBEB', borderWidth: 0 });

    const [sxMin, sxMax] = scatterXRange;
    const [syMin, syMax] = scatterYRange[p];
    xAxes.push(...makeAxes(gS, sxMin, sxMax, scatterXTicks, 2, 'SNP effect on BDNF', 13, xNameStyle));
    yAxes.push(...makeAxes(gS, syMin, syMax, scatterYTicks[p], 1, 'SNP effect on ' + outcomeNames[p], 20, yNameStyle));
    const [fxMin, fxMax] = funnelXRange[p];
    const [fyMin, fyMax] = funnelYRange[p];
    xAxes.push(...makeAxes(gF, fxMin, fxMax, funnelXTicks[p], funnelXDecimals[p], 'βIV', 13, xNameStyle));
    yAxes.push(...makeAxes(gF, fyMin, fyMax, funnelYTicks[p], funnelYDecimals[p], '1/SEIV', 18, fyNameStyle));

    const sxi = 2 * gS, fxi = 2 * gF;

    const ys = outcomeBetas[p];
    const rows: number[][] = [];
    bdnfBeta.forEach((bx, i) => {
      const by = ys[i];
      if (by === null || by === undefined) return;
      rows.push([bx, by, bdnfSe[i], outcomeSe[i]]);
    });

    series.push({
      type: 'custom', xAxisIndex: sxi, yAxisIndex: sxi, data: rows, silent: true, clip: true, z: 2,
      encode: { x: 0, y: 1 },
      renderItem: (params: any, api: any) => {
        const x = api.value(0), y = api.value(1), sx = api.value(2), sy = api.value(3);
        const a = api.coord([x - sx, y]), b = api.coord([x + sx, y]);
        const c = api.coord([x, y - sy]), d = api.coord([x, y + sy]);
        const st = { stroke: '#BEBEBE', lineWidth: 1 };
        return {
          type: 'group',
          children: [
            { type: 'line', shape: { x1: a[0], y1: a[1], x2: b[0], y2: b[1] }, style: st },
            { type: 'line', shape: { x1: c[0], y1: c[1], x2: d[0], y2: d[1] }, style: st },
          ],
        };
      },
    });
    series.push({
      type: 'scatter', xAxisIndex: sxi, yAxisIndex: sxi, data: rows.map(r => [r[0], r[1]]),
      symbol: 'circle', symbolSize: 2.6, itemStyle: { color: '#000' }, silent: true, z: 3,
    });
    const slopes = [ivwSlope[p], eggerSlope[p], simpleModeSlope[p], weightedMedianSlope[p], weightedModeSlope[p]];
    const inters = [0, eggerIntercept[p], 0, 0, 0];
    methods.forEach((m, k) => {
      series.push({
        type: 'line', name: m, xAxisIndex: sxi, yAxisIndex: sxi, color: methodColors[k],
        data: [[sxMin, inters[k] + slopes[k] * sxMin], [sxMax, inters[k] + slopes[k] * sxMax]],
        showSymbol: false, symbol: 'none', lineStyle: { color: methodColors[k], width: 1.3 }, silent: true, z: 4 + k * 0.01, clip: true,
      });
    });

    series.push({
      type: 'scatter', xAxisIndex: fxi, yAxisIndex: fxi, data: funnelPoints[p],
      symbol: 'circle', symbolSize: 2.6, itemStyle: { color: '#000' }, silent: true, z: 3,
    });
    [funnelIvw[p], funnelEgger[p]].forEach((v, k) => {
      series.push({
        type: 'line', name: methods[k], xAxisIndex: fxi, yAxisIndex: fxi, color: methodColors[k],
        data: [[v, fyMin], [v, fyMax]], showSymbol: false, symbol: 'none',
        lineStyle: { color: methodColors[k], width: 1.3 }, silent: true, z: 4 + k * 0.01,
      });
    });

    texts.push({ type: 'text', left: cx + 37, top: T - 0.5, silent: true, style: { text: letter, fontSize: 13, lineHeight: 12, fill: '#000', fontFamily: FONT } });
    texts.push({ type: 'text', left: TITLE_LEFT[col], top: T - 0.5, silent: true, style: { text: panelTitles[p], fontSize: 13, lineHeight: 12, fill: '#000', fontFamily: FONT } });
  });

  const legendText = { fontSize: 16.5, color: '#000', fontFamily: FONT, lineHeight: 18 };
  return {
    animation: false,
    backgroundColor: '#FFFFFF',
    textStyle: { fontFamily: FONT },
    grid: grids,
    xAxis: xAxes,
    yAxis: yAxes,
    series,
    legend: [
      { orient: 'vertical', left: 418, top: 1043, itemWidth: 31, itemHeight: 14, itemGap: 2.3, padding: 0, selectedMode: false,
        textStyle: legendText, data: [{ name: methods[0], icon: ivwIcon }, { name: methods[1], icon: ivwIcon }] },
      { orient: 'vertical', left: 418, top: 1083.6, itemWidth: 12, itemHeight: 14, itemGap: 2.3, padding: 0, selectedMode: false,
        textStyle: legendText, data: [{ name: methods[2], icon: modeIcon }, { name: methods[3], icon: modeIcon }, { name: methods[4], icon: modeIcon }] },
    ],
    graphic: { elements: texts },
  };
}

export default function App() {
  const ref = useRef<HTMLDivElement>(null);
  useEffect(() => {
    document.body.style.margin = '0';
    if (!ref.current) return;
    const chart = echarts.init(ref.current, undefined, { renderer: 'svg' });
    chart.setOption(buildOption() as any);
    return () => chart.dispose();
  }, []);
  return <div ref={ref} style={{ width: 754, height: 1181 }} />;
}
